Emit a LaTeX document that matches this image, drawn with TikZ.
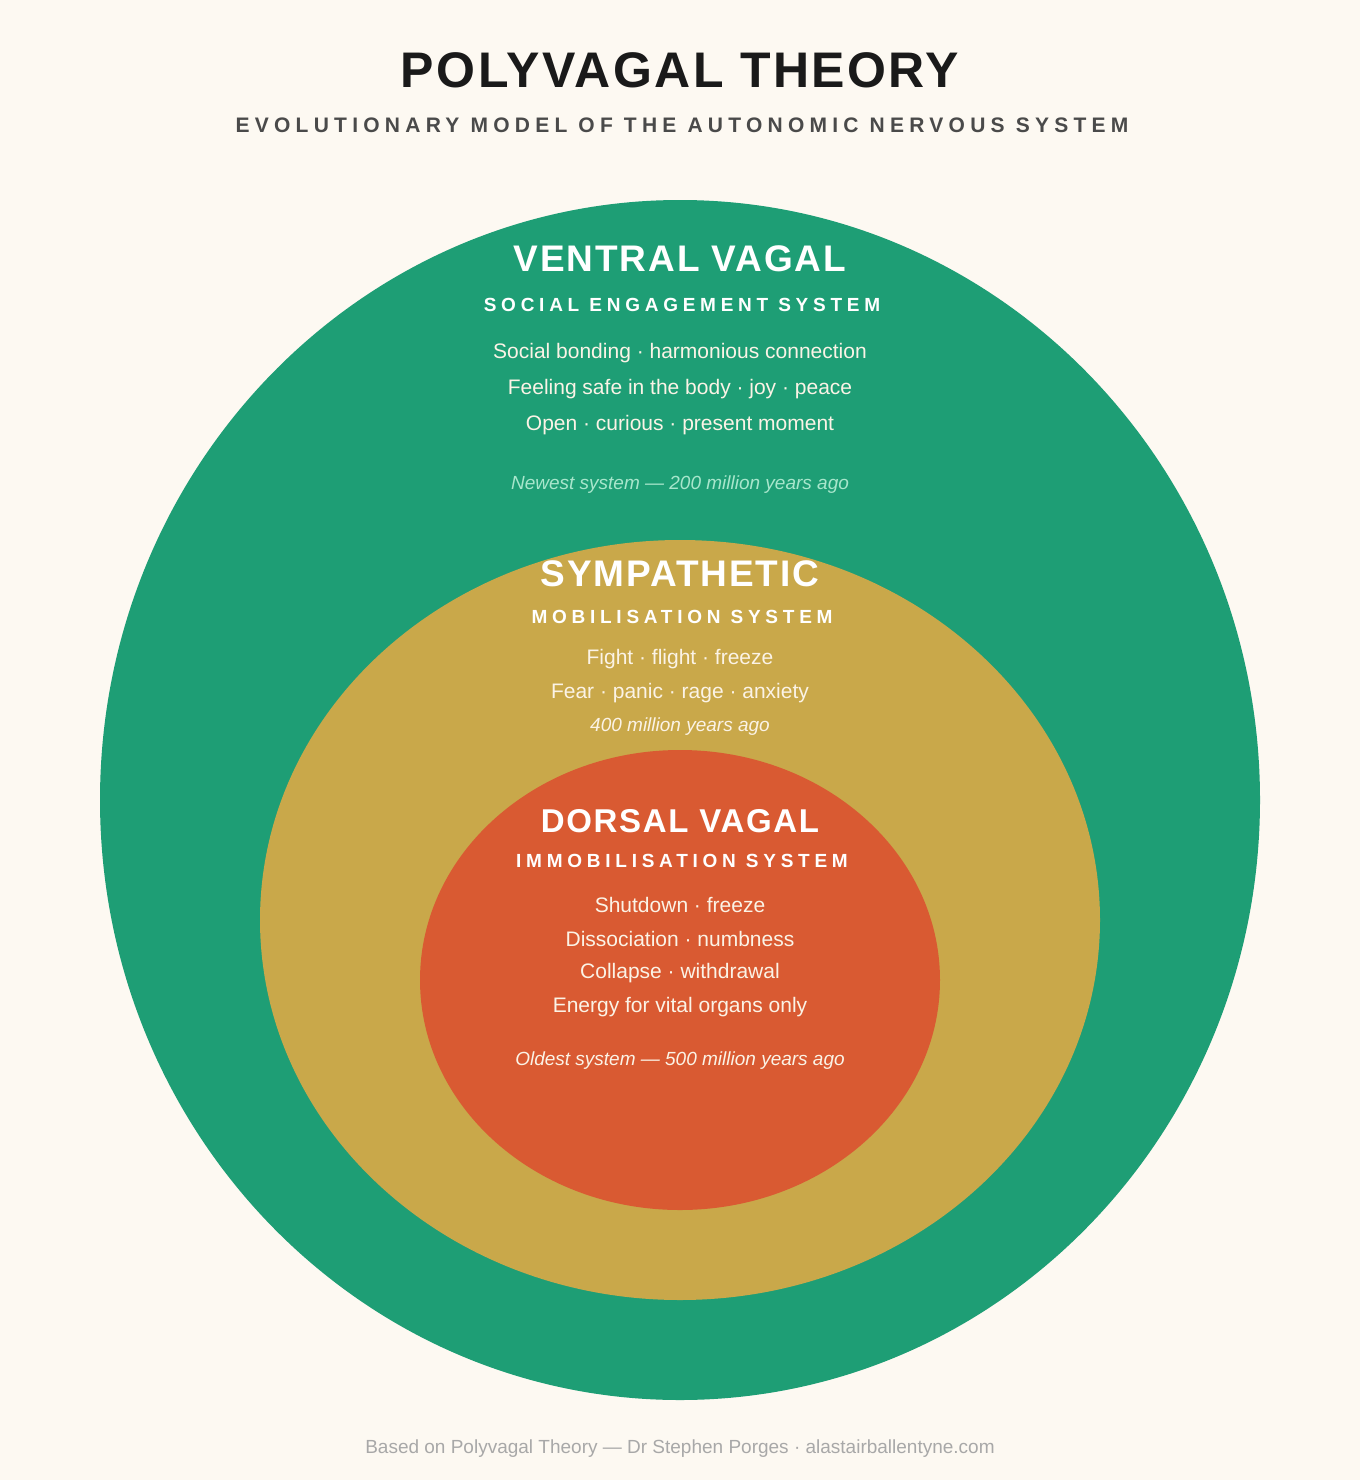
\documentclass[tikz,border=0pt]{standalone}
\usepackage{fontspec}
\setmainfont{Liberation Sans}
\definecolor{bg}{HTML}{FDF9F2}
\definecolor{vgreen}{HTML}{1E9E75}
\definecolor{syel}{HTML}{C9A84A}
\definecolor{dred}{HTML}{D95A32}
\definecolor{ttl}{HTML}{1A1A1A}
\definecolor{sub}{HTML}{4A4A4A}
\definecolor{gitl}{HTML}{A8E6CC}
\definecolor{foot}{HTML}{A8A8A8}
\definecolor{soft}{HTML}{FBF3E6}
\tikzset{
 big/.style={font=\fontsize{#1}{#1}\selectfont\bfseries\addfontfeatures{LetterSpace=5}},
 spaced/.style={font=\fontsize{#1}{#1}\selectfont\bfseries\addfontfeatures{LetterSpace=25}},
 body/.style={font=\fontsize{21}{25}\selectfont, text=soft},
 itl/.style={font=\fontsize{19}{23}\selectfont\itshape},
}
\begin{document}
\begin{tikzpicture}[x=1pt,y=-1pt]
\useasboundingbox[fill=bg] (0,0) rectangle (1360,1480);
\node[big=50,text=ttl] (title) at (680,70) {POLYVAGAL THEORY};
\node[spaced=21,text=sub] (subtitle) at (682,125) {EVOLUTIONARY MODEL OF THE AUTONOMIC NERVOUS SYSTEM};
\fill[vgreen] (680,800) ellipse [x radius=580, y radius=600];
\fill[syel] (680,920) ellipse [x radius=420, y radius=380];
\fill[dred] (680,980) ellipse [x radius=260, y radius=230];
% ventral
\node[big=37,text=white] (vt) at (680,259) {VENTRAL VAGAL};
\node[spaced=19,text=white] (vs) at (682,305) {SOCIAL ENGAGEMENT SYSTEM};
\node[body] (v1) at (680,353) {Social bonding · harmonious connection};
\node[body] (v2) at (680,389) {Feeling safe in the body · joy · peace};
\node[body] (v3) at (680,425) {Open · curious · present moment};
\node[itl,text=gitl] (v4) at (680,485) {Newest system — 200 million years ago};
% sympathetic
\node[big=37,text=white] (st) at (680,574) {SYMPATHETIC};
\node[spaced=19,text=white] (ss) at (682,617) {MOBILISATION SYSTEM};
\node[body] (s1) at (680,659) {Fight · flight · freeze};
\node[body] (s2) at (680,693) {Fear · panic · rage · anxiety};
\node[itl,text=soft] (s3) at (680,727) {400 million years ago};
% dorsal
\node[big=33,text=white] (dt) at (680,821) {DORSAL VAGAL};
\node[spaced=19,text=white] (ds) at (682,861) {IMMOBILISATION SYSTEM};
\node[body] (d1) at (680,905) {Shutdown · freeze};
\node[body] (d2) at (680,939) {Dissociation · numbness};
\node[body] (d3) at (680,973) {Collapse · withdrawal};
\node[body] (d4) at (680,1007) {Energy for vital organs only};
\node[itl,text=soft] (d5) at (680,1061) {Oldest system — 500 million years ago};
\node[font=\fontsize{19}{23}\selectfont,text=foot] (ft) at (680,1449) {Based on Polyvagal Theory — Dr Stephen Porges · alastairballentyne.com};
\end{tikzpicture}
\end{document}
